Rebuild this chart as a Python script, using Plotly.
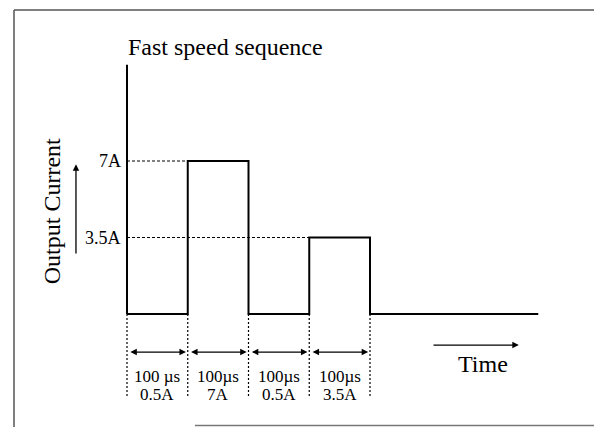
import plotly.graph_objects as go

# ---- data ----
seg_times = [0, 1, 2, 3, 4]           # segment boundaries (units of 100 µs)
seg_levels = [0, 7, 0, 3.5]           # drawn current level per segment (A)
seg_dur_labels = ["100 µs", "100µs", "100µs", "100µs"]
seg_cur_labels = ["0.5A", "7A", "0.5A", "3.5A"]
tick_vals = [7, 3.5]
tick_labels = ["7A", "3.5A"]
t_end = 6.77
y_top = 11.4

FONT = "Liberation Serif, Times New Roman, serif"

fig = go.Figure()

# waveform (step)
xs = seg_times + [t_end]
ys = seg_levels + [0, 0]
fig.add_trace(go.Scatter(x=xs, y=ys, mode="lines", line=dict(color="black", width=2, shape="hv"),
                         hoverinfo="skip", showlegend=False))
# vertical axis line
fig.add_trace(go.Scatter(x=[0, 0], y=[0, y_top], mode="lines", line=dict(color="black", width=2),
                         hoverinfo="skip", showlegend=False))

# dashed level guides
for lv in tick_vals:
    idx = seg_levels.index(lv)
    fig.add_trace(go.Scatter(x=[0, seg_times[idx]], y=[lv, lv], mode="lines",
                             line=dict(color="black", width=1, dash="3px,2px"),
                             hoverinfo="skip", showlegend=False))

# vertical dotted lines below baseline
for t in seg_times:
    fig.add_trace(go.Scatter(x=[t, t], y=[0, -3.75], mode="lines",
                             line=dict(color="black", width=1.2, dash="2px,2px"),
                             hoverinfo="skip", showlegend=False))

annotations = []
# tick labels
for v, lab in zip(tick_vals, tick_labels):
    annotations.append(dict(x=-0.07, y=v, text=lab, showarrow=False, xanchor="right", yanchor="middle",
                            font=dict(family=FONT, size=18, color="black")))

# double arrows and segment labels
for i in range(len(seg_levels)):
    a, b = seg_times[i], seg_times[i + 1]
    annotations.append(dict(x=b - 0.03, y=-1.74, ax=a + 0.03, ay=-1.74, xref="x", yref="y",
                            axref="x", ayref="y", text="", showarrow=True,
                            arrowhead=2, startarrowhead=2, arrowside="end+start",
                            arrowsize=1, arrowwidth=1.3, arrowcolor="black"))
    c = (a + b) / 2
    annotations.append(dict(x=c, y=-2.84, text=seg_dur_labels[i], showarrow=False,
                            xanchor="center", yanchor="middle",
                            font=dict(family=FONT, size=17, color="black")))
    annotations.append(dict(x=c, y=-3.66, text=seg_cur_labels[i], showarrow=False,
                            xanchor="center", yanchor="middle",
                            font=dict(family=FONT, size=17, color="black")))

# time arrow + label
annotations.append(dict(x=6.45, y=-1.42, ax=5.02, ay=-1.42, xref="x", yref="y", axref="x", ayref="y",
                        text="", showarrow=True, arrowhead=2, arrowsize=1, arrowwidth=1.3,
                        arrowcolor="black"))
annotations.append(dict(x=5.86, y=-2.3, text="Time", showarrow=False, xanchor="center", yanchor="middle",
                        font=dict(family=FONT, size=24, color="black")))

# output current arrow + label
annotations.append(dict(x=-0.84, y=6.85, ax=-0.84, ay=2.7, xref="x", yref="y", axref="x", ayref="y",
                        text="", showarrow=True, arrowhead=2, arrowsize=1, arrowwidth=1.3,
                        arrowcolor="black"))
annotations.append(dict(x=-1.235, y=4.7, text="Output Current", textangle=-90, showarrow=False,
                        xanchor="center", yanchor="middle",
                        font=dict(family=FONT, size=24, color="black")))

# title
annotations.append(dict(x=-0.02, y=12.2, text="Fast speed sequence", showarrow=False,
                        xanchor="left", yanchor="middle",
                        font=dict(family=FONT, size=24, color="black")))

W, H = 594, 427
px_per_x = 60.75
px_per_y = 21.857
x0_px, y0_px = 127, 314

def px(xp):
    return xp / W

def py(yp):
    return 1 - yp / H

shapes = [
    dict(type="line", xref="paper", yref="paper", x0=px(14), x1=px(14), y0=0, y1=py(10),
         line=dict(color="#555", width=1.5)),
    dict(type="line", xref="paper", yref="paper", x0=px(14), x1=1, y0=py(10), y1=py(10),
         line=dict(color="#555", width=1.5)),
    dict(type="line", xref="paper", yref="paper", x0=px(195), x1=1, y0=py(425.5), y1=py(425.5),
         line=dict(color="#777", width=1.5)),
]

fig.update_layout(
    width=W, height=H, margin=dict(l=0, r=0, t=0, b=0),
    paper_bgcolor="white", plot_bgcolor="white",
    xaxis=dict(range=[-x0_px / px_per_x, (W - x0_px) / px_per_x], visible=False, fixedrange=True),
    yaxis=dict(range=[(y0_px - H) / px_per_y, y0_px / px_per_y], visible=False, fixedrange=True),
    annotations=annotations, shapes=shapes, showlegend=False,
)

fig.write_html("out.html", config={"displayModeBar": False},
               post_script="document.body.style.margin='0';document.body.style.overflow='hidden';")
